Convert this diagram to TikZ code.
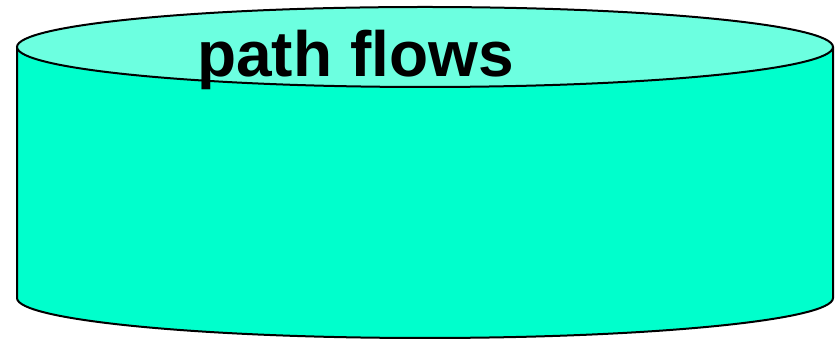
\documentclass[tikz,border=0pt]{standalone}
\usepackage{fontspec}
\setmainfont{Liberation Sans}
\definecolor{topfill}{HTML}{6CFFE0}
\definecolor{bodyfill}{HTML}{00FFCC}
\tikzset{rim/.style={draw=black, line width=2pt}}
\begin{document}
\begin{tikzpicture}[x=1pt, y=1pt]
  \useasboundingbox (0, 0) rectangle (836, 339);
  \draw[rim, fill=bodyfill] (17, 292) -- (17, 41) arc[start angle=180, end angle=360, x radius=408, y radius=40] -- (833, 292);
  \draw[rim, fill=topfill] (425, 292) ellipse [x radius=408, y radius=40];
  \node[anchor=base west, inner sep=0pt, font=\fontsize{64}{64}\selectfont\bfseries] (title) at (197, 262) {path flows};
\end{tikzpicture}
\end{document}
